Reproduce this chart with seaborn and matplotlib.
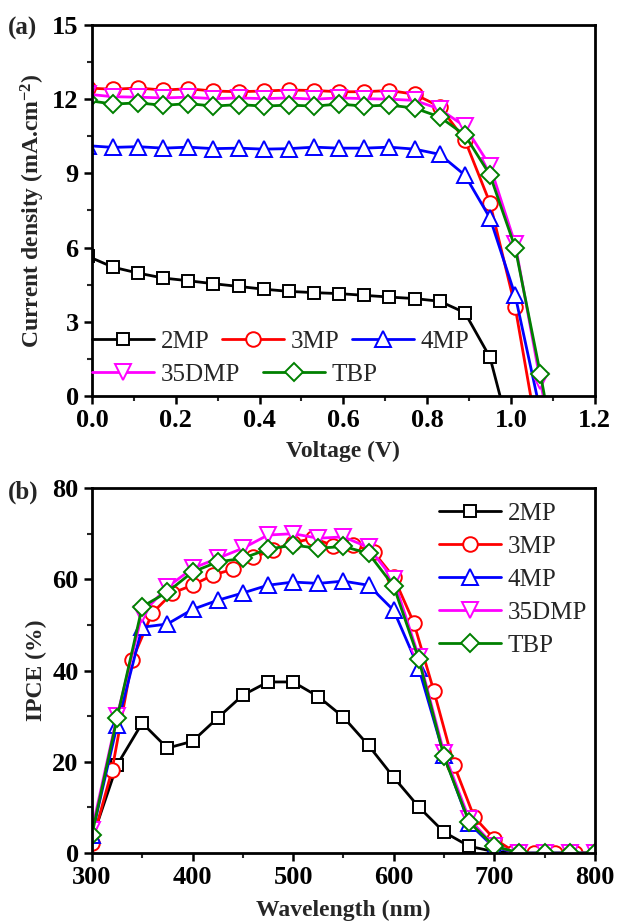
import matplotlib
matplotlib.use('Agg')
import matplotlib.pyplot as plt
import seaborn as sns
from matplotlib.lines import Line2D
from matplotlib.ticker import MultipleLocator

NAMES = ['2MP', '3MP', '4MP', '35DMP', 'TBP']
COLORS = ['black', 'red', 'blue', 'magenta', 'green']
MARKERS = ['s', 'o', '^', 'v', 'D']
MSIZES = [8.5, 10.5, 11, 11, 9]

# (a) J-V curves, last point of each series is Voc (no marker)
v_2mp = [-0.01, 0.05, 0.11, 0.17, 0.23, 0.29, 0.35, 0.41, 0.47, 0.53, 0.59, 0.65, 0.71, 0.77, 0.83, 0.89, 0.95, 0.974]
j_2mp = [5.65, 5.21, 4.97, 4.77, 4.66, 4.54, 4.43, 4.32, 4.23, 4.18, 4.14, 4.07, 4.0, 3.94, 3.83, 3.37, 1.56, 0.0]
v_3mp = [-0.01, 0.05, 0.11, 0.17, 0.23, 0.29, 0.35, 0.41, 0.47, 0.53, 0.59, 0.65, 0.71, 0.77, 0.83, 0.89, 0.95, 1.01, 1.047]
j_3mp = [12.45, 12.4, 12.45, 12.37, 12.42, 12.33, 12.3, 12.33, 12.37, 12.35, 12.3, 12.3, 12.35, 12.2, 11.7, 10.35, 7.8, 3.6, 0.0]
v_4mp = [-0.01, 0.05, 0.11, 0.17, 0.23, 0.29, 0.35, 0.41, 0.47, 0.53, 0.59, 0.65, 0.71, 0.77, 0.83, 0.89, 0.95, 1.01, 1.062]
j_4mp = [10.12, 10.05, 10.08, 10.02, 10.06, 10.0, 10.02, 9.98, 10.0, 10.06, 10.02, 10.02, 10.06, 9.98, 9.77, 8.93, 7.19, 4.07, 0.0]
v_35dmp = [-0.01, 0.05, 0.11, 0.17, 0.23, 0.29, 0.35, 0.41, 0.47, 0.53, 0.59, 0.65, 0.71, 0.77, 0.83, 0.89, 0.95, 1.01, 1.07, 1.077]
j_35dmp = [12.2, 12.1, 12.08, 12.05, 12.08, 12.02, 12.05, 12.02, 12.05, 12.0, 12.05, 12.02, 12.0, 11.95, 11.6, 10.9, 9.3, 6.15, 0.6, 0.0]
v_tbp = [-0.01, 0.05, 0.11, 0.17, 0.23, 0.29, 0.35, 0.41, 0.47, 0.53, 0.59, 0.65, 0.71, 0.77, 0.83, 0.89, 0.95, 1.01, 1.07, 1.08]
j_tbp = [11.95, 11.8, 11.85, 11.75, 11.82, 11.72, 11.78, 11.72, 11.76, 11.72, 11.8, 11.72, 11.76, 11.64, 11.28, 10.55, 8.93, 6.0, 0.91, 0.0]

# (b) IPCE spectra
wl_25 = [300, 325, 350, 375, 400, 425, 450, 475, 500, 525, 550, 575, 600, 625, 650, 675, 700, 725, 750, 775, 800]
wl_20 = [300, 320, 340, 360, 380, 400, 420, 440, 460, 480, 500, 520, 540, 560, 580, 600, 620, 640, 660, 680, 700, 720, 740, 760, 780, 800]
ipce_2mp = [3.0, 19.3, 28.5, 23.0, 24.5, 29.6, 34.6, 37.5, 37.5, 34.3, 29.8, 23.6, 16.6, 10.1, 4.6, 1.5, 0.3, 0.0, 0.0, 0.0, 0.0]
ipce_3mp = [2.2, 18.2, 42.3, 52.6, 57.0, 58.7, 60.9, 62.2, 64.8, 66.4, 68.0, 69.0, 67.4, 67.5, 66.0, 60.5, 50.5, 35.5, 19.3, 7.9, 3.1, 0.3, 0.0, 0.0, 0.0, 0.0]
ipce_4mp = [4.0, 28.0, 49.5, 50.2, 53.4, 55.4, 57.0, 58.7, 59.4, 59.1, 59.6, 58.7, 53.2, 40.5, 21.5, 6.5, 1.2, 0.0, 0.0, 0.0, 0.0]
ipce_35dmp = [5.0, 30.0, 52.5, 58.3, 62.4, 64.6, 66.8, 69.7, 70.0, 69.0, 69.3, 67.0, 60.0, 43.0, 22.0, 7.5, 1.5, 0.0, 0.0, 0.0, 0.0]
ipce_tbp = [4.0, 29.6, 54.0, 57.2, 61.6, 63.8, 64.6, 66.6, 67.5, 66.8, 67.2, 65.7, 58.5, 42.5, 21.2, 6.8, 1.5, 0.0, 0.0, 0.0, 0.0]

jv = [(v_2mp, j_2mp), (v_3mp, j_3mp), (v_4mp, j_4mp), (v_35dmp, j_35dmp), (v_tbp, j_tbp)]
ipce = [(wl_25, ipce_2mp), (wl_20, ipce_3mp), (wl_25, ipce_4mp), (wl_25, ipce_35dmp), (wl_25, ipce_tbp)]

sns.set_style('ticks')
plt.rcParams['font.family'] = ['Liberation Serif', 'DejaVu Serif']
plt.rcParams['font.weight'] = 'bold'
plt.rcParams['axes.labelweight'] = 'bold'
plt.rcParams['mathtext.fontset'] = 'custom'
plt.rcParams['mathtext.rm'] = 'Liberation Serif:bold'
plt.rcParams['mathtext.default'] = 'rm'

fig = plt.figure(figsize=(6.17, 9.24), dpi=100)
ax1 = fig.add_axes([0.149, 0.5714, 0.815, 0.4016])
ax2 = fig.add_axes([0.149, 0.0768, 0.815, 0.395])

for i in range(5):
    x, y = jv[i]
    sns.lineplot(x=x, y=y, ax=ax1, color=COLORS[i], lw=2, marker=MARKERS[i],
                 ms=MSIZES[i], mfc='white', mec=COLORS[i], mew=1.4,
                 markevery=list(range(len(x) - 1)), sort=False,
                 estimator=None, legend=False)
    x, y = ipce[i]
    sns.lineplot(x=x, y=y, ax=ax2, color=COLORS[i], lw=2, marker=MARKERS[i],
                 ms=MSIZES[i], mfc='white', mec=COLORS[i], mew=1.4,
                 sort=False, estimator=None, legend=False)

handles = [Line2D([], [], color=COLORS[i], lw=2, marker=MARKERS[i], ms=MSIZES[i],
                  mfc='white', mec=COLORS[i], mew=1.4, label=NAMES[i]) for i in range(5)]

ax1.set_xlim(0, 1.2)
ax1.set_ylim(0, 15)
ax1.xaxis.set_major_locator(MultipleLocator(0.2))
ax1.xaxis.set_minor_locator(MultipleLocator(0.1))
ax1.yaxis.set_major_locator(MultipleLocator(3))
ax1.yaxis.set_minor_locator(MultipleLocator(1.5))
ax1.set_xticklabels([f'{t:.1f}' for t in ax1.get_xticks()])
ax1.set_xlabel('Voltage (V)', fontsize=17)
ax1.set_ylabel('Current density (mA.cm$^{-2}$)', fontsize=17)

ax2.set_xlim(300, 800)
ax2.set_ylim(0, 80)
ax2.xaxis.set_major_locator(MultipleLocator(100))
ax2.xaxis.set_minor_locator(MultipleLocator(50))
ax2.yaxis.set_major_locator(MultipleLocator(20))
ax2.yaxis.set_minor_locator(MultipleLocator(10))
ax2.set_xlabel('Wavelength (nm)', fontsize=17)
ax2.set_ylabel('IPCE (%)', fontsize=17)

for ax in (ax1, ax2):
    for s in ax.spines.values():
        s.set_linewidth(2)
        s.set_color('black')
    ax.tick_params(which='major', direction='out', length=6, width=1.8,
                   labelsize=19, top=False, right=False, colors='black')
    ax.tick_params(which='minor', direction='out', length=3.5, width=1.5,
                   top=False, right=False)
    ax.yaxis.set_label_coords(-0.09, 0.5)

ax1.xaxis.set_label_coords(0.5, -0.122)
ax2.xaxis.set_label_coords(0.5, -0.127)

lp = {'size': 18, 'weight': 'normal'}
leg1 = ax1.legend(handles=handles[:3], loc='center left', bbox_to_anchor=(0.0, 0.146),
                  ncol=3, frameon=False, handlelength=2.5, handletextpad=0.25,
                  columnspacing=0.5, borderpad=0, borderaxespad=0, prop=lp)
ax1.add_artist(leg1)
ax1.legend(handles=handles[3:], loc='center left', bbox_to_anchor=(0.0, 0.057),
           ncol=2, frameon=False, handlelength=2.5, handletextpad=0.25,
           columnspacing=0.9, borderpad=0, borderaxespad=0, prop=lp)

ax2.legend(handles=handles, loc='upper left', bbox_to_anchor=(0.69, 0.96),
           frameon=False, handlelength=2.5, handletextpad=0.25, labelspacing=0.42,
           borderpad=0, borderaxespad=0, prop=lp)

fig.text(0.013, 1 - 28 / 924, '(a)', fontsize=18, fontweight='bold', va='center')
fig.text(0.013, 1 - 492 / 924, '(b)', fontsize=18, fontweight='bold', va='center')

fig.savefig('out.png', dpi=100)
